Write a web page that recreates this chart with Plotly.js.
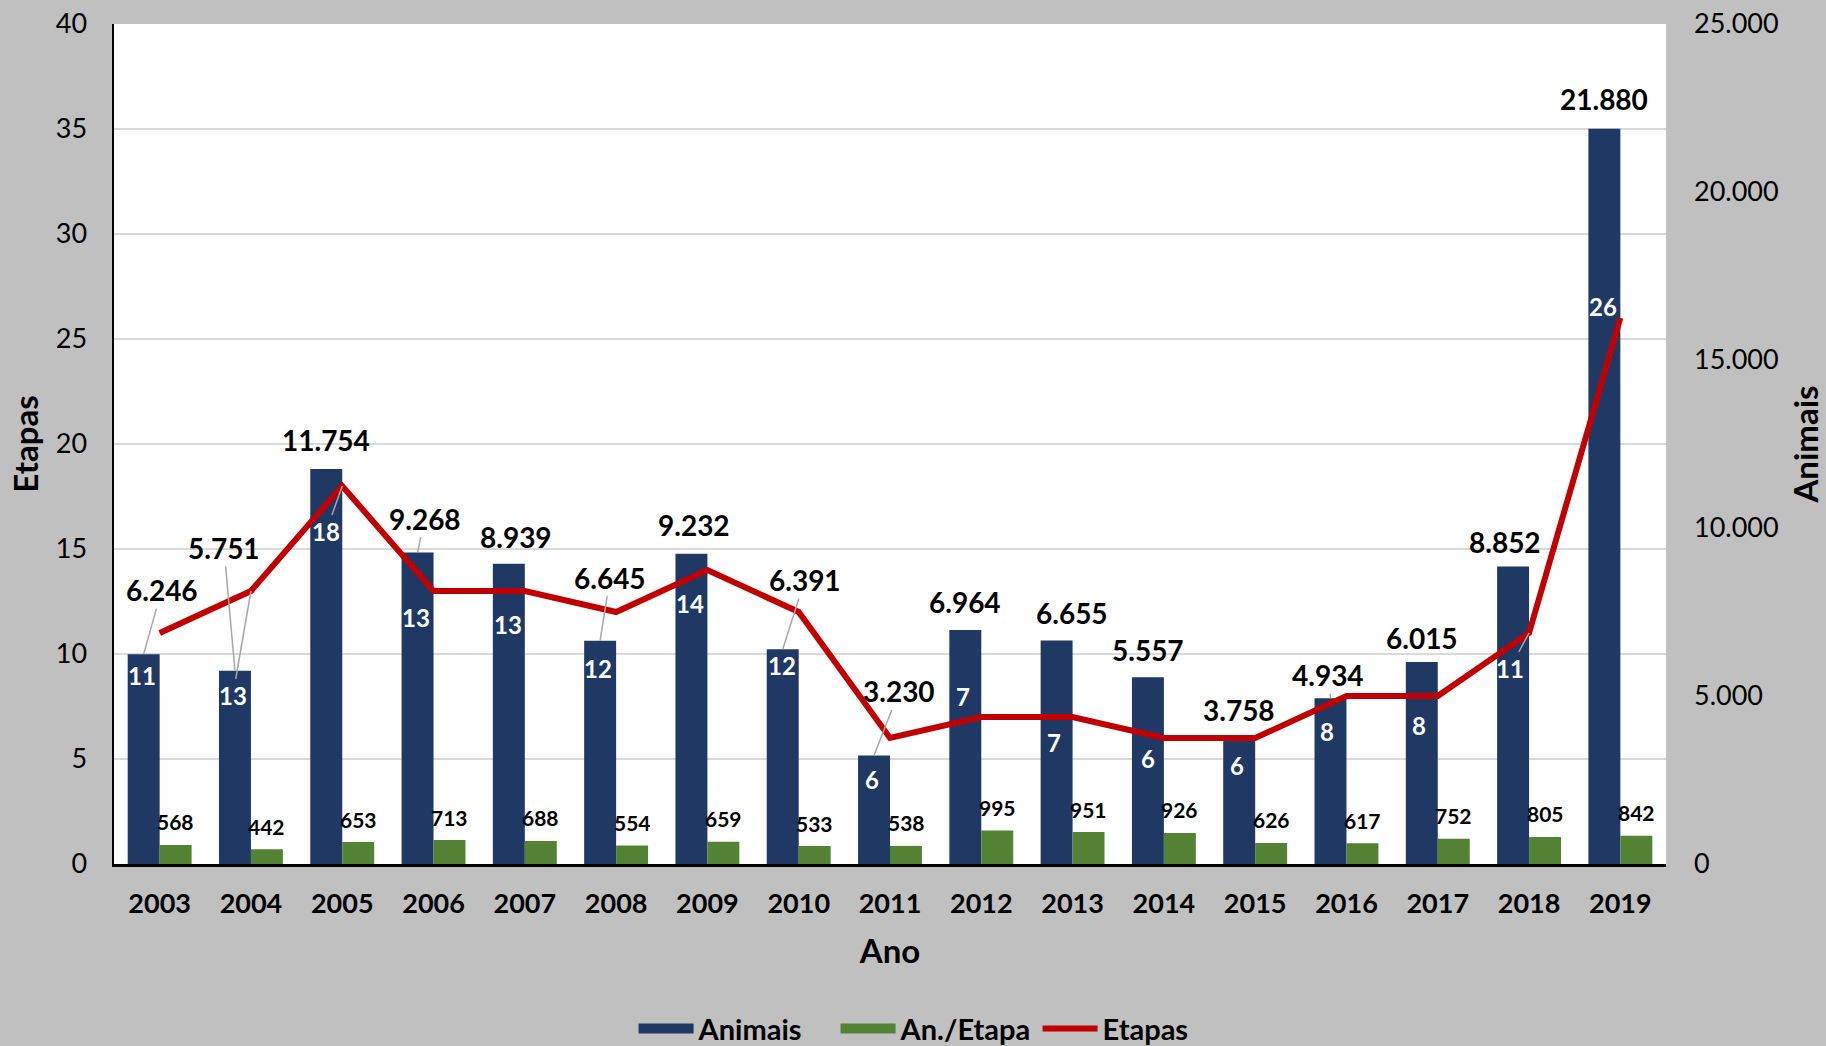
<!DOCTYPE html>
<html><head><meta charset="utf-8">
<script src="https://cdn.plot.ly/plotly-3.0.1.min.js"></script>
<style>html,body{margin:0;padding:0;background:#c0c0c0;} #chart{width:1826px;height:1046px;}</style>
</head><body><div id="chart"></div>
<script>
const anos = ['2003','2004','2005','2006','2007','2008','2009','2010','2011','2012','2013','2014','2015','2016','2017','2018','2019'];
const animais = [6246,5751,11754,9268,8939,6645,9232,6391,3230,6964,6655,5557,3758,4934,6015,8852,21880];
const anPorEtapa = [568,442,653,713,688,554,659,533,538,995,951,926,626,617,752,805,842];
const etapas = [11,13,18,13,13,12,14,12,6,7,7,6,6,8,8,11,26];

// label placement (pixel offsets of each label from its anchor point)
const animaisLblOff = [[18,-64],[-11,-123],[0,-29],[7,-34],[7,-27],[10,-63],[3,-29],[22,-69],[25,-64],[0,-28],[15,-27],[0,-27],[0,-28],[-2,-23],[0,-24],[-8,-25],[0,-30]];
const animaisLeader = [1,1,0,1,0,1,0,1,1,0,0,0,0,1,0,0,0];
const etapasLblOff = [[-18,42],[-18,104],[-16,45],[-18,26],[-17,33],[-18,56],[-17,33],[-17,53],[-18,41],[-18,-21],[-19,25],[-16,20],[-18,27],[-19,35],[-19,29],[-19,35],[-17,-12]];
const etapasLeader = [0,1,1,0,0,0,0,0,0,0,0,0,0,0,0,1,0];

const FONT = 'Lato, "Open Sans", sans-serif';
const NAVY = '#1f3864', GREEN = '#548235', RED = '#c00000';
const fmt = v => String(v).replace(/\B(?=(\d{3})+(?!\d))/g, '.');

const traces = [
  // legend entries (wide swatches like the original)
  {type:'scatter', mode:'lines', name:'Animais', x:[null], y:[null], yaxis:'y', line:{color:NAVY, width:12}, hoverinfo:'skip'},
  {type:'scatter', mode:'lines', name:'An./Etapa', x:[null], y:[null], yaxis:'y', line:{color:GREEN, width:12}, hoverinfo:'skip'},
  {type:'bar', name:'Animais', x:anos, y:animais, yaxis:'y', marker:{color:NAVY}, showlegend:false, hoverinfo:'skip'},
  {type:'bar', name:'An./Etapa', x:anos, y:anPorEtapa, yaxis:'y', marker:{color:GREEN}, showlegend:false, hoverinfo:'skip'},
  {type:'scatter', mode:'lines', name:'Etapas', x:anos, y:etapas, yaxis:'y2', line:{color:RED, width:6}, hoverinfo:'skip'}
];

const ann = [];
anos.forEach((a,i)=>{
  ann.push({x:i, y:animais[i], xref:'x', yref:'y', xshift:-16, text:fmt(animais[i]),
    showarrow:true, arrowhead:0, arrowwidth:1.5, standoff:0,
    arrowcolor: animaisLeader[i] ? '#a6a6a6' : 'rgba(0,0,0,0)',
    ax:animaisLblOff[i][0], ay:animaisLblOff[i][1],
    font:{family:FONT, size:28, color:'#000', weight:'bold'}});
  ann.push({x:i, y:etapas[i], xref:'x', yref:'y2', text:String(etapas[i]),
    showarrow:true, arrowhead:0, arrowwidth:1.5, standoff:0,
    arrowcolor: etapasLeader[i] ? '#a6a6a6' : 'rgba(0,0,0,0)',
    ax:etapasLblOff[i][0], ay:etapasLblOff[i][1],
    font:{family:FONT, size:24, color:'#fff', weight:'bold'}});
  ann.push({x:i, y:anPorEtapa[i], xref:'x', yref:'y', xshift:16, yshift:23, yanchor:'middle',
    text:String(anPorEtapa[i]), showarrow:false,
    font:{family:FONT, size:21, color:'#000', weight:'bold'}});
});

const layout = {
  width:1826, height:1046,
  paper_bgcolor:'#c0c0c0', plot_bgcolor:'#ffffff',
  margin:{l:114, r:160, t:24, b:182, autoexpand:false},
  separators:',.',
  barmode:'group', bargap:0.3, bargroupgap:0,
  font:{family:FONT, color:'#000'},
  showlegend:true,
  legend:{orientation:'h', x:0.53, xanchor:'center', y:-0.196, yanchor:'middle',
    font:{family:FONT, size:29, color:'#000', weight:'bold'}, bgcolor:'rgba(0,0,0,0)', itemwidth:55,
    entrywidth:132, entrywidthmode:'pixels'},
  xaxis:{type:'category', range:[-0.5, anos.length-0.5], anchor:'y', showgrid:false, zeroline:false, showline:true, linecolor:'#000', linewidth:2.5,
    ticks:'', ticklabelstandoff:14, tickfont:{family:FONT, size:27, weight:'bold'},
    title:{text:'Ano', font:{family:FONT, size:33, weight:'bold'}, standoff:22}, automargin:false},
  yaxis:{side:'right', range:[0,25000], dtick:5000, tickformat:',d', showgrid:false, zeroline:false, showline:false,
    ticks:'', ticklabelstandoff:27, tickfont:{family:FONT, size:27},
    title:{text:'Animais', font:{family:FONT, size:33, weight:'bold'}, standoff:17}, automargin:false},
  yaxis2:{overlaying:'y', side:'left', anchor:'x', range:[0,40], dtick:5, showgrid:true, gridcolor:'#d9d9d9', gridwidth:1.5,
    zeroline:false, showline:true, linecolor:'#000', linewidth:2.5,
    ticks:'', ticklabelstandoff:19, tickfont:{family:FONT, size:27},
    title:{text:'Etapas', font:{family:FONT, size:33, weight:'bold'}, standoff:7}, automargin:false},
  annotations:ann
};

Plotly.newPlot('chart', traces, layout, {displayModeBar:false, staticPlot:true});
</script></body></html>
